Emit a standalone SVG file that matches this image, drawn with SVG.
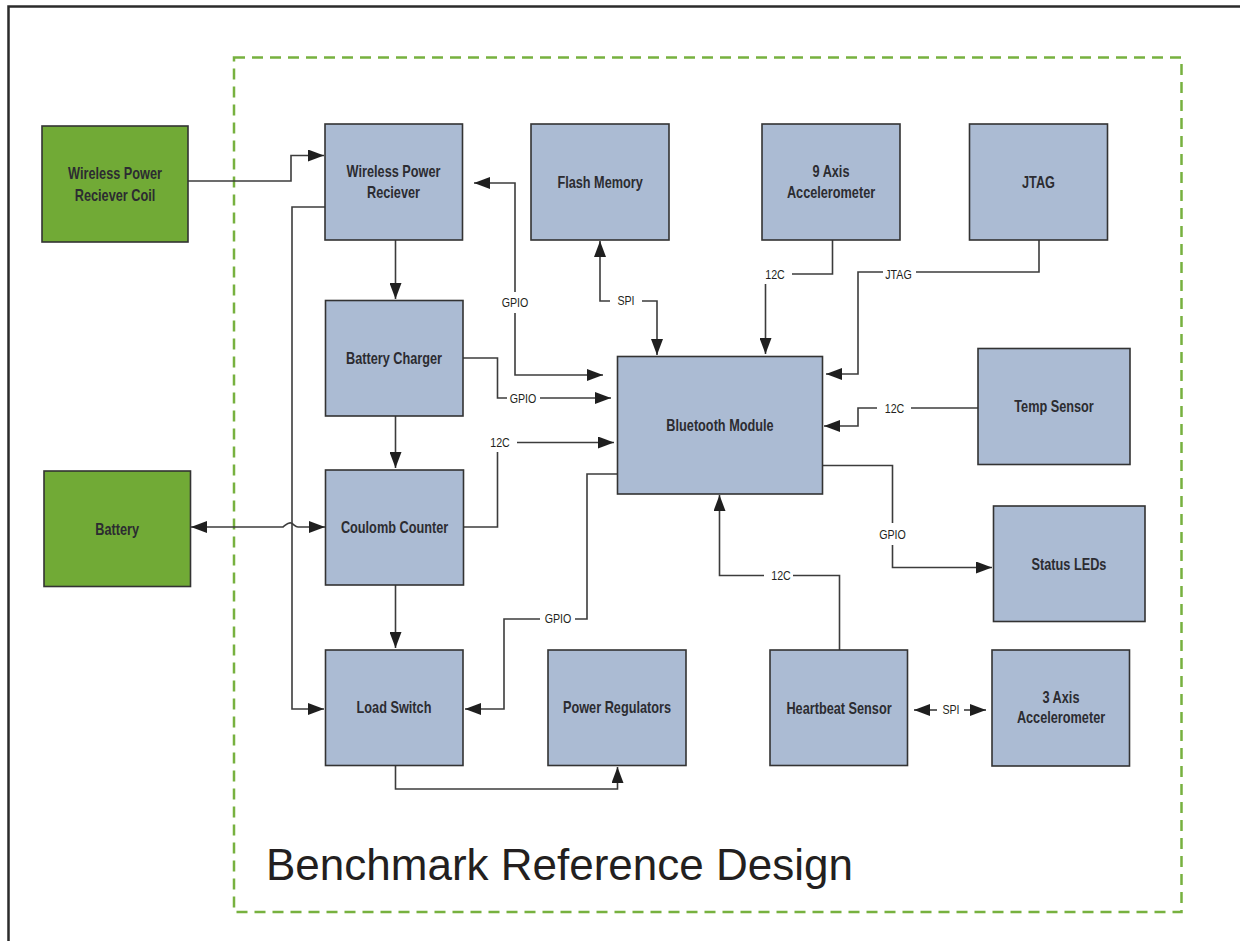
<svg xmlns="http://www.w3.org/2000/svg" width="1240" height="941" viewBox="0 0 1240 941">
<defs>
<style>
.frame{fill:none;stroke:#2b2b2b;stroke-width:2.5}
.bound{fill:none;stroke:#77b13f;stroke-width:2.5;stroke-dasharray:11 7}
.blk{fill:#abbbd3;stroke:#333;stroke-width:1.6}
.grn{fill:#71aa36;stroke:#333;stroke-width:1.6}
.nt,.lt{transform-box:fill-box;transform-origin:center}
.nt{transform:scaleX(0.78);font-family:"Liberation Sans",Arial,sans-serif;font-weight:bold;font-size:16.3px;fill:#2c2c31;text-anchor:middle}
.lt{transform:scaleX(0.79);font-family:"Liberation Sans",Arial,sans-serif;font-size:13.5px;fill:#231f20;text-anchor:middle}
.title{font-family:"Liberation Sans",Arial,sans-serif;font-size:44px;fill:#231f20}
.c{fill:none;stroke:#3c3c3c;stroke-width:1.6}
.a{marker-end:url(#ah)}
.aa{marker-start:url(#ah);marker-end:url(#ah)}
</style>
<marker id="ah" markerUnits="userSpaceOnUse" markerWidth="16" markerHeight="12" refX="16" refY="6" orient="auto-start-reverse" viewBox="0 0 16 12">
<path d="M0,0 L16,6 L0,12 z" fill="#1f1f1f"/>
</marker>
</defs>
<rect width="1240" height="941" fill="#fff"/>
<path class="frame" d="M8.5,941 V6.5 H1240"/>
<rect class="bound" x="234" y="57.5" width="947.5" height="854.5"/>

<g id="connectors">
<!-- Coil to WPR -->
<path class="c a" d="M188,181 H291 V155.5 H324"/>
<!-- WPR to Load Switch (power rail) -->
<path class="c a" d="M325,207 H292 V709 H324"/>
<!-- Battery <-> Coulomb Counter with hop -->
<path class="c aa" d="M191,527 H283 C286,525 288,522 291,523 C294,524 295,527 298,527 H325"/>
<!-- WPR -> Battery Charger -->
<path class="c a" d="M395.5,240 V299"/>
<!-- BC -> CC -->
<path class="c a" d="M395.5,416 V468"/>
<!-- CC -> Load Switch -->
<path class="c a" d="M395.5,585 V648"/>
<!-- Load Switch -> Power Regulators -->
<path class="c a" d="M395.5,766 V789 H617.5 V767"/>
<!-- BT <-> Load Switch GPIO -->
<path class="c" d="M617,474 H587 V619 H575"/>
<path class="c a" d="M540,619 H504 V709 H465"/>
<text class="lt" x="558" y="623.5">GPIO</text>
<!-- WPR <-> BT GPIO -->
<path class="c" d="M515,292 V183 H474" marker-end="url(#ah)"/>
<path class="c a" d="M515,313 V375 H603"/>
<text class="lt" x="515" y="307">GPIO</text>
<!-- BC -> BT GPIO -->
<path class="c" d="M463,358 H497.5 V398 H507"/>
<path class="c a" d="M540,398 H611"/>
<text class="lt" x="523" y="403">GPIO</text>
<!-- CC -> BT 12C -->
<path class="c" d="M463,527 H497.5 V452"/>
<text class="lt" x="500" y="447.5">12C</text>
<path class="c a" d="M517,442.5 H614"/>
<!-- Flash <-> BT SPI -->
<path class="c" d="M610,301 H600 V241" marker-end="url(#ah)"/>
<path class="c a" d="M642,301 H657 V355"/>
<text class="lt" x="626" y="305.5">SPI</text>
<!-- 9 Axis -> BT 12C -->
<path class="c" d="M832.5,239 V274 H792"/>
<text class="lt" x="775" y="279">12C</text>
<path class="c a" d="M765.5,284 V354"/>
<!-- JTAG -> BT -->
<path class="c" d="M1039,239 V272 H916"/>
<path class="c a" d="M883,272 H858 V374 H826"/>
<text class="lt" x="898.5" y="279">JTAG</text>
<!-- Temp -> BT 12C -->
<path class="c" d="M978,408 H911"/>
<path class="c a" d="M877,408 H858 V426 H824"/>
<text class="lt" x="894.5" y="413">12C</text>
<!-- BT -> Status LEDs GPIO -->
<path class="c" d="M822,465.5 H892.5 V523"/>
<path class="c a" d="M892.5,545 V567.5 H992"/>
<text class="lt" x="892.5" y="539.5">GPIO</text>
<!-- Heartbeat -> BT 12C -->
<path class="c" d="M839.5,650 V575.5 H793"/>
<path class="c a" d="M764,575.5 H719.5 V495"/>
<text class="lt" x="781" y="580">12C</text>
<!-- Heartbeat <-> 3 Axis SPI -->
<path class="c" d="M937,710 H914" marker-end="url(#ah)"/>
<path class="c a" d="M964,710 H986"/>
<text class="lt" x="951" y="714.5">SPI</text>
</g>

<g id="coil"><rect class="grn" x="42" y="126" width="146" height="116"/><text class="nt" x="115" y="179">Wireless Power</text><text class="nt" x="115" y="201">Reciever Coil</text></g>
<g id="wpr"><rect class="blk" x="325" y="124" width="137.5" height="116"/><text class="nt" x="393.5" y="177">Wireless Power</text><text class="nt" x="393.5" y="198">Reciever</text></g>
<g id="flash"><rect class="blk" x="531" y="124" width="138" height="116"/><text class="nt" x="600" y="188">Flash Memory</text></g>
<g id="axis9"><rect class="blk" x="762" y="124" width="138" height="116"/><text class="nt" x="831" y="177">9 Axis</text><text class="nt" x="831" y="198">Accelerometer</text></g>
<g id="jtag"><rect class="blk" x="969.5" y="124" width="138" height="116"/><text class="nt" x="1038.5" y="188">JTAG</text></g>
<g id="charger"><rect class="blk" x="325.5" y="300.5" width="137.5" height="115.5"/><text class="nt" x="394" y="364">Battery Charger</text></g>
<g id="bluetooth"><rect class="blk" x="617.5" y="356.5" width="205" height="137.5"/><text class="nt" x="720" y="431">Bluetooth Module</text></g>
<g id="temp"><rect class="blk" x="978" y="348.5" width="152" height="116"/><text class="nt" x="1054" y="412">Temp Sensor</text></g>
<g id="battery"><rect class="grn" x="44" y="471" width="146.5" height="115.5"/><text class="nt" x="117" y="535">Battery</text></g>
<g id="coulomb"><rect class="blk" x="325.5" y="470" width="138" height="115"/><text class="nt" x="394.5" y="533">Coulomb Counter</text></g>
<g id="leds"><rect class="blk" x="993.5" y="506" width="151.5" height="115.5"/><text class="nt" x="1069" y="570">Status LEDs</text></g>
<g id="loadswitch"><rect class="blk" x="325.5" y="650" width="137.5" height="115.5"/><text class="nt" x="394" y="713.5">Load Switch</text></g>
<g id="regulators"><rect class="blk" x="548" y="650" width="138" height="115.5"/><text class="nt" x="617" y="713.5">Power Regulators</text></g>
<g id="heartbeat"><rect class="blk" x="770" y="650" width="137.5" height="115.5"/><text class="nt" x="839" y="714">Heartbeat Sensor</text></g>
<g id="axis3"><rect class="blk" x="992" y="650" width="137.5" height="116"/><text class="nt" x="1061" y="703">3 Axis</text><text class="nt" x="1061" y="723.5">Accelerometer</text></g>

<text class="title" x="266" y="880">Benchmark Reference Design</text>
</svg>
